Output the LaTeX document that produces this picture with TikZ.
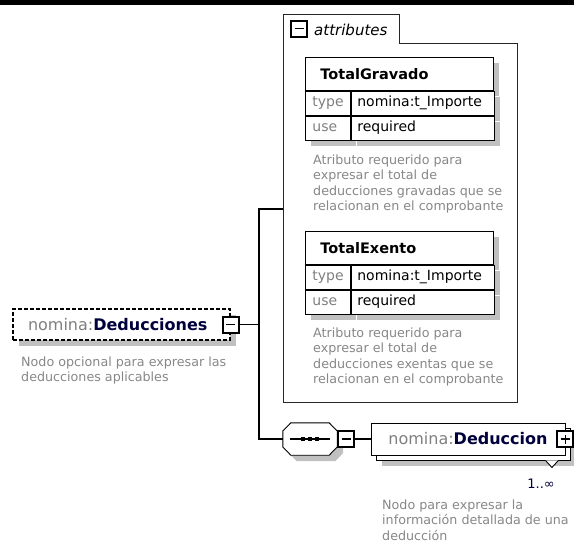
\documentclass[tikz,border=0pt]{standalone}
\usepackage{fontspec}
\setmainfont{DejaVu Sans}[BoldFont={DejaVu Sans Bold},ItalicFont={DejaVu Sans Oblique}]
\usetikzlibrary{calc}
\usetikzlibrary{positioning}
\usetikzlibrary{shadows}

\definecolor{prefixgray}{RGB}{128,128,128}
\definecolor{descgray}{RGB}{135,135,135}
\definecolor{namenavy}{RGB}{0,0,60}
\definecolor{shadowgray}{RGB}{192,192,192}

\tikzset{
  box/.style={draw=black,line width=0.9pt,fill=white,inner sep=0pt},
  boxshadow/.style={drop shadow={shadow xshift=6pt,shadow yshift=-6pt,fill=shadowgray,opacity=1,draw=none}},
  elembox/.style={box,minimum height=31pt,font=\fontsize{16}{19}\selectfont},
  optbox/.style={elembox,line width=1.1pt,dash pattern=on 4pt off 2pt},
  seqarea/.style={minimum width=54pt,minimum height=32pt,inner sep=0pt},
  toggle/.style={draw=black,line width=2pt,fill=white,minimum size=16pt,inner sep=0pt},
  togminus/.style={toggle,path picture={
      \draw[line width=1.5pt] ([xshift=-4.5pt]path picture bounding box.center) -- ([xshift=4.5pt]path picture bounding box.center);}},
  togplus/.style={toggle,path picture={
      \draw[line width=1.5pt] ([xshift=-4.5pt]path picture bounding box.center) -- ([xshift=4.5pt]path picture bounding box.center);
      \draw[line width=1.5pt] ([yshift=-4.5pt]path picture bounding box.center) -- ([yshift=4.5pt]path picture bounding box.center);}},
  titlecell/.style={box,minimum width=188pt,minimum height=33pt,text width=158pt,align=left,font=\fontsize{14.5}{17}\selectfont\bfseries},
  keycell/.style={box,minimum width=45pt,minimum height=24pt,text width=31pt,align=left,text=prefixgray,
    text height=10pt,text depth=3pt,font=\fontsize{14}{17}\selectfont},
  valcell/.style={box,minimum width=143pt,minimum height=24pt,text width=131pt,align=left,
    text height=10pt,text depth=3pt,font=\fontsize{14}{17}\selectfont},
  desc/.style={anchor=north west,inner sep=0pt,align=left,text=descgray,font=\fontsize{12.7}{15.5}\selectfont},
  link/.style={draw=black,line width=1.4pt},
  attrframe/.style={draw=black!85,line width=0.9pt}
}

\begin{document}
\begin{tikzpicture}[x=1pt,y=-1pt]
  \useasboundingbox (0,0) rectangle (574,542);
  \fill (0,0) rectangle (574,5);

  % attributes group
  \draw[attrframe] (283,14) -- (399,14) -- (399,43) -- (517,43) -- (517,402) -- (283,402) -- cycle;
  \node[togminus] (attrtog) at (299,28.5) {};
  \node[anchor=west,inner sep=0pt,font=\fontsize{15}{18}\selectfont\itshape] (attrlabel) at (314,30) {attributes};
  \coordinate (attrin) at (283,209);

  % TotalGravado
  \node[titlecell,boxshadow,anchor=north west] (gravado) at (305,57) {TotalGravado};
  \node[keycell,boxshadow,anchor=north west] (gravadotype) at (gravado.south west) {type};
  \node[valcell,boxshadow,anchor=north west] (gravadotypev) at (gravadotype.north east) {nomina:t\_Importe};
  \node[keycell,boxshadow,anchor=north west] (gravadouse) at (gravadotype.south west) {use};
  \node[valcell,boxshadow,anchor=north west] (gravadousev) at (gravadouse.north east) {required};
  \node[desc] (gravadodesc) at (313,154.5) {Atributo requerido para\\expresar el total de\\deducciones gravadas que se\\relacionan en el comprobante};

  % TotalExento
  \node[titlecell,boxshadow,anchor=north west] (exento) at (305,231) {TotalExento};
  \node[keycell,boxshadow,anchor=north west] (exentotype) at (exento.south west) {type};
  \node[valcell,boxshadow,anchor=north west] (exentotypev) at (exentotype.north east) {nomina:t\_Importe};
  \node[keycell,boxshadow,anchor=north west] (exentouse) at (exentotype.south west) {use};
  \node[valcell,boxshadow,anchor=north west] (exentousev) at (exentouse.north east) {required};
  \node[desc] (exentodesc) at (313,327.5) {Atributo requerido para\\expresar el total de\\deducciones exentas que se\\relacionan en el comprobante};

  % Deducciones
  \node[optbox,boxshadow,minimum width=217pt,text width=187pt,align=left] (deducciones) at (121.5,324.5) {\textcolor{prefixgray}{nomina:}\textcolor{namenavy}{\bfseries Deducciones}};
  \node[togminus] (deduccionestog) at (deducciones.east) {};
  \node[desc] (deduccionesdesc) at (21,356.5) {Nodo opcional para expresar las\\deducciones aplicables};
  \coordinate (spine) at (259,324.5);

  % sequence
  \node[seqarea] (seq) at (310,439) {};
  \fill[shadowgray,transform canvas={shift={(6pt,-6pt)}}] ($(seq.west)+(0,-8)$) -- ($(seq.north west)+(8,0)$) -- ($(seq.north east)+(-8,0)$) -- ($(seq.east)+(0,-8)$)
    -- ($(seq.east)+(0,8)$) -- ($(seq.south east)+(-8,0)$) -- ($(seq.south west)+(8,0)$) -- ($(seq.west)+(0,8)$) -- cycle;
  \draw[box] ($(seq.west)+(0,-8)$) -- ($(seq.north west)+(8,0)$) -- ($(seq.north east)+(-8,0)$) -- ($(seq.east)+(0,-8)$)
    -- ($(seq.east)+(0,8)$) -- ($(seq.south east)+(-8,0)$) -- ($(seq.south west)+(8,0)$) -- ($(seq.west)+(0,8)$) -- cycle;
  \draw[line width=1.4pt] ($(seq.center)+(-20,0)$) -- ($(seq.center)+(20,0)$);
  \foreach \dx in {-7,0,7}
    \fill ($(seq.center)+(\dx,0)$) +(-2.4,-2.4) rectangle +(2.4,2.4);
  \node[togminus,anchor=west] (seqtog) at (seq.east) {};

  % Deduccion
  \node[elembox,boxshadow,minimum width=194pt,minimum height=32pt] (deduccionback) at (473,444) {};
  \node[elembox,minimum width=194pt,minimum height=32pt] (deduccion) at (468,439) {\textcolor{prefixgray}{nomina:}\textcolor{namenavy}{\bfseries Deduccion}};
  \node[togplus] (deducciontog) at (deduccion.east) {};
  \draw[box] ($(deduccionback.south east)+(-25,0)$) -- ++(6.5,7) -- ++(6.5,-7);
  \node[anchor=base east,inner sep=0pt,font=\fontsize{13}{15}\selectfont,text=namenavy] (occurs) at (555,488) {1..∞};
  \node[desc] (deducciondesc) at (382,499.5) {Nodo para expresar la\\información detallada de una\\deducción};

  % connectors
  \draw[link] (deduccionestog.east) -- (spine);
  \draw[link] (attrin) -| (spine) |- (seq.west);
  \draw[link] (seqtog.east) -- (deduccion.west);
\end{tikzpicture}
\end{document}
